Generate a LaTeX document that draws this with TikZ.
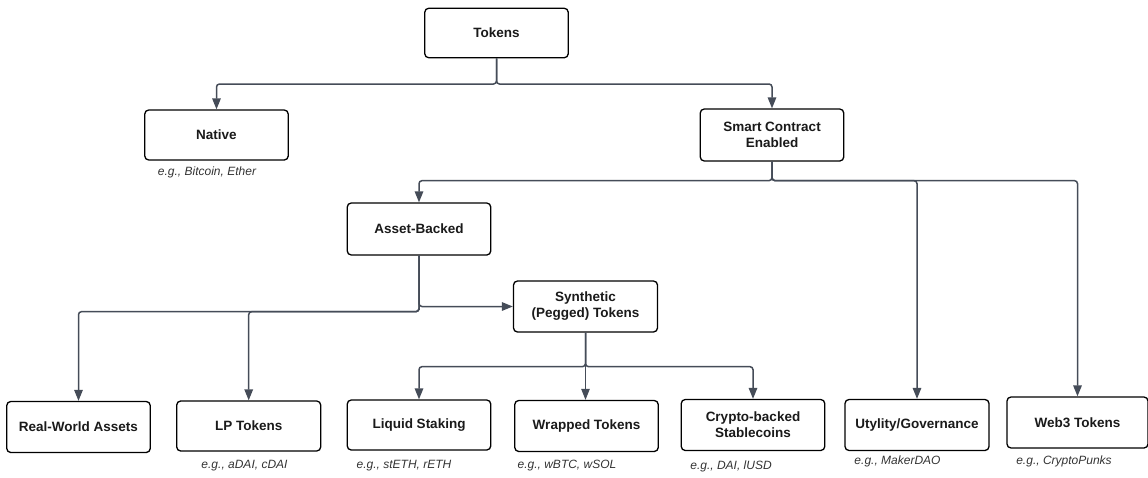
\documentclass[tikz,border=0pt]{standalone}
\usepackage{fontspec}
\setmainfont{Liberation Sans}
\usetikzlibrary{arrows.meta}
\definecolor{linec}{HTML}{454C58}
\definecolor{labelc}{HTML}{333333}
\definecolor{boxtext}{HTML}{1A1A1A}
\tikzset{
  box/.style={draw=black, line width=1.3pt, rounded corners=4pt, fill=white,
    minimum width=143.5pt, minimum height=50pt, inner sep=2pt, align=center,
    font=\fontsize{13.5}{16}\selectfont\bfseries, text=boxtext},
  conn/.style={draw=linec, line width=1.5pt, rounded corners=3pt,
    -{Triangle[length=11pt,width=8.5pt]}},
  thinconn/.style={conn, line width=1pt},
  eg/.style={font=\fontsize{12}{14}\selectfont\itshape, text=labelc, inner sep=0pt}
}
\begin{document}
\begin{tikzpicture}[x=1pt,y=-1pt]
\useasboundingbox (0,0) rectangle (1148,477);

\node[box, minimum height=49.5pt] (tokens) at (496.5,33) {Tokens};
\node[box] (native) at (216.5,135) {Native};
\node[box, minimum height=52pt] (sce) at (772,135) {Smart Contract\\Enabled};
\node[box, minimum height=52pt] (asset) at (419,229) {Asset-Backed};
\node[box, minimum width=144pt, minimum height=51pt] (synth) at (585.5,306.5) {Synthetic\\(Pegged) Tokens};

\node[box, minimum height=51pt] (rwa) at (78.5,427) {Real-World Assets};
\node[box, minimum width=144pt] (lp) at (248.7,426) {LP Tokens};
\node[box] (liquid) at (419,425) {Liquid Staking};
\node[box, minimum height=51pt] (wrapped) at (586.5,426) {Wrapped Tokens};
\node[box, minimum height=51pt] (crypto) at (753,425) {Crypto-backed\\Stablecoins};
\node[box, minimum width=144pt, minimum height=51pt] (util) at (917,425) {Utylity/Governance};
\node[box, minimum width=141pt, minimum height=51pt] (web3) at (1077.5,422.5) {Web3 Tokens};

% labels
\node[eg] (l1) at (207,172) {e.g., Bitcoin, Ether};
\node[eg] (l2) at (244.5,466) {e.g., aDAI, cDAI};
\node[eg] (l3) at (404,466) {e.g., stETH, rETH};
\node[eg] (l4) at (567,466) {e.g., wBTC, wSOL};
\node[eg] (l5) at (731,466) {e.g., DAI, lUSD};
\node[eg] (l6) at (897.5,461) {e.g., MakerDAO};
\node[eg] (l7) at (1064,461) {e.g., CryptoPunks};

% connectors
\draw[conn] (tokens.south) |- ++(0,25.6) -| (native.north);
\draw[conn] (tokens.south) |- ++(0,25.6) -| (sce.north);

\draw[conn] (sce.south) |- ++(0,19) -| (asset.north);
\draw[conn] (sce.south) |- ++(0,19) -| (util.north);
\draw[conn] (sce.south) |- ++(0,19) -| (web3.north);

\draw[conn] (asset.south) |- ++(0,56) -| (rwa.north);
\draw[conn] (asset.south) |- ++(0,56) -| (lp.north);
\draw[conn] (asset.south) |- (synth.west);

\draw[conn] (synth.south) |- ++(0,34) -| (liquid.north);
\draw[thinconn] (synth.south) -- (synth.south |- wrapped.north);
\draw[conn] (synth.south) |- ++(0,34) -| (crypto.north);
\end{tikzpicture}
\end{document}
